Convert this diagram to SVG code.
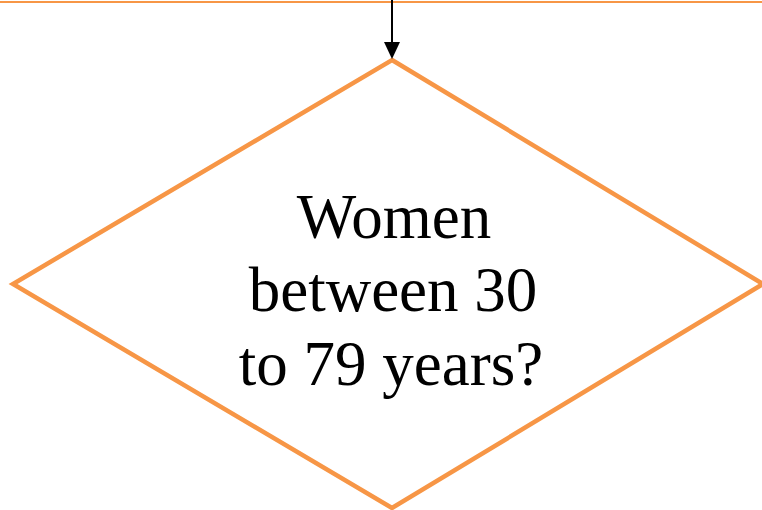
<svg xmlns="http://www.w3.org/2000/svg" width="762" height="510" viewBox="0 0 762 510">
<defs>
<style>
.shape{fill:#fff;stroke:#F79646;stroke-width:4.5;stroke-linejoin:miter}
.lbl{font-family:"Liberation Serif","Times New Roman",serif;font-size:63px;fill:#000;text-anchor:middle}
</style>
</defs>
<rect width="762" height="510" fill="#fff"/>
<line x1="0" y1="2" x2="762" y2="2" stroke="#F79646" stroke-width="2"/>
<g id="decision">
<polygon class="shape" points="392,60 763,284 392,508 13,284"/>
<text class="lbl" x="394" y="238">Women</text>
<text class="lbl" x="393" y="311">between 30</text>
<text class="lbl" x="391" y="385">to 79 years?</text>
</g>
<g id="connectors">
<line x1="392" y1="0" x2="392" y2="42" stroke="#000" stroke-width="2"/>
<path d="M384,42 L400,42 L392,59 z" fill="#000"/>
</g>
</svg>
